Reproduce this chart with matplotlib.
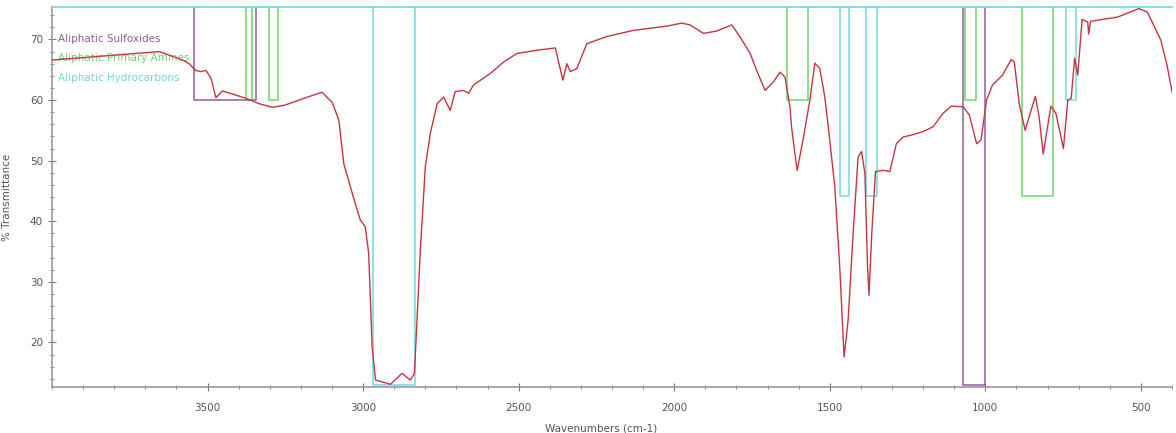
import numpy as np
import matplotlib
matplotlib.use("Agg")
import matplotlib.pyplot as plt
from matplotlib.ticker import MultipleLocator

# FTIR spectrum (wavenumber, %T)
wavenumber = [4000, 3655, 3580, 3559, 3538, 3521, 3505, 3489, 3473, 3452,
              3420, 3377, 3334, 3291, 3249, 3195, 3132, 3099, 3078, 3062,
              3041, 3025, 3009, 2993, 2982, 2971, 2960, 2939, 2912, 2875,
              2848, 2835, 2816, 2800, 2784, 2762, 2741, 2720, 2704, 2677,
              2661, 2645, 2591, 2548, 2505, 2431, 2382, 2358, 2345, 2334,
              2313, 2281, 2216, 2131, 2024, 1976, 1949, 1906, 1863, 1815,
              1788, 1756, 1735, 1708, 1681, 1660, 1644, 1628, 1623, 1605,
              1586, 1564, 1548, 1532, 1516, 1500, 1484, 1468, 1454, 1441,
              1425, 1409, 1398, 1387, 1379, 1374, 1365, 1353, 1328, 1307,
              1286, 1264, 1232, 1200, 1168, 1136, 1110, 1071, 1051, 1028,
              1014, 996, 977, 945, 917, 907, 891, 872, 853, 839,
              827, 814, 800, 789, 773, 749, 735, 724, 713, 703,
              689, 671, 668, 662, 575, 506, 479, 436, 415, 399]
transmittance = [66.6, 68.0, 66.6, 66.0, 64.9, 64.7, 64.9, 63.6, 60.4, 61.5,
                 61.0, 60.3, 59.4, 58.8, 59.2, 60.2, 61.3, 59.6, 56.7, 49.5,
                 45.7, 42.9, 40.2, 39.1, 34.7, 19.3, 13.8, 13.5, 13.1, 14.9,
                 13.8, 14.9, 35.2, 49.0, 54.5, 59.4, 60.5, 58.3, 61.4, 61.6,
                 61.1, 62.5, 64.4, 66.3, 67.7, 68.3, 68.6, 63.3, 66.0, 64.7,
                 65.2, 69.3, 70.5, 71.5, 72.2, 72.7, 72.4, 71.0, 71.4, 72.4,
                 70.4, 67.7, 64.9, 61.6, 63.0, 64.6, 63.8, 58.9, 55.6, 48.4,
                 53.4, 60.0, 66.1, 65.2, 60.5, 53.4, 45.7, 32.5, 17.6, 23.7,
                 38.0, 50.6, 51.5, 47.9, 33.0, 27.8, 38.0, 48.2, 48.4, 48.2,
                 52.8, 53.9, 54.3, 54.8, 55.6, 57.8, 59.0, 58.9, 57.5, 52.8,
                 53.4, 60.0, 62.5, 64.1, 66.7, 66.3, 59.4, 55.0, 58.3, 60.6,
                 57.2, 51.1, 55.6, 59.0, 57.8, 52.0, 60.0, 60.3, 66.9, 64.1,
                 73.3, 72.9, 70.9, 73.0, 73.7, 75.1, 74.5, 69.9, 65.5, 61.1]

# band boxes: (start, end, floor)
sulfoxide_bands = [(3542, 3345, 60.0), (1071, 1001, 13.05)]
amine_bands = [(3375, 3357, 60.0), (3302, 3274, 60.0), (1637, 1570, 60.0),
               (1064, 1029, 60.0), (882, 781, 44.1)]
hydrocarbon_bands = [(2967, 2833, 13.05), (1468, 1438, 44.1),
                     (1385, 1348, 44.1), (741, 709, 60.0)]

band_names = ["Aliphatic Sulfoxides", "Aliphatic Primary Amines",
              "Aliphatic Hydrocarbons"]

Y_TOP = 75.3
Y_BOT = 12.6
PURPLE = "#8e5f9e"
GREEN = "#6fd36f"
CYAN = "#70dada"
RED = "#c8343f"

fig = plt.figure(figsize=(11.76, 4.33), dpi=100)
ax = fig.add_axes([0.0442, 0.1055, 0.9524, 0.8775])


def draw_boxes(bands, color):
    for lo, hi, floor in bands:
        ax.plot([lo, lo, hi, hi], [Y_TOP, floor, floor, Y_TOP],
                color=color, linewidth=1.1, zorder=2)


draw_boxes(amine_bands, GREEN)
draw_boxes(hydrocarbon_bands, CYAN)
draw_boxes(sulfoxide_bands, PURPLE)

ax.plot(wavenumber, transmittance, color=RED, linewidth=1.0, zorder=3)

ax.set_xlim(4000, 400)
ax.set_ylim(Y_BOT, Y_TOP)

ax.xaxis.set_minor_locator(MultipleLocator(100))
ax.yaxis.set_minor_locator(MultipleLocator(2))
ax.set_xticks([3500, 3000, 2500, 2000, 1500, 1000, 500])
ax.set_yticks([20, 30, 40, 50, 60, 70])

ax.tick_params(which="major", direction="inout", length=6, width=0.8,
               color="#777777", labelcolor="#555555", labelsize=7.5)
ax.tick_params(which="minor", direction="inout", length=3, width=0.6,
               color="#777777")
ax.tick_params(axis="x", pad=8)

for side in ["left", "bottom"]:
    ax.spines[side].set_color("#999999")
    ax.spines[side].set_linewidth(1.2)
ax.spines["right"].set_visible(False)
ax.spines["top"].set_color(CYAN)
ax.spines["top"].set_linewidth(1.2)

ax.set_xlabel("Wavenumbers (cm-1)", color="#555555", fontsize=7.5)
ax.set_ylabel("% Transmittance", color="#555555", fontsize=7.5)
ax.xaxis.set_label_coords(0.49, -0.095)
ax.yaxis.set_label_coords(-0.036, 0.5)

for name, color, ypos in zip(band_names, [PURPLE, GREEN, CYAN],
                             [0.917, 0.866, 0.814]):
    ax.text(0.005, ypos, name, transform=ax.transAxes, color=color,
            fontsize=7.5, va="center", ha="left", zorder=1)

fig.savefig("out.png", dpi=100)
